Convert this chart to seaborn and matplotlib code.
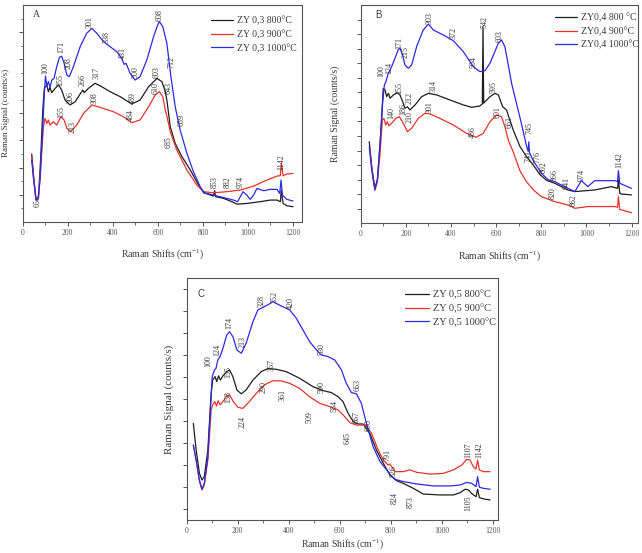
import matplotlib
matplotlib.use("Agg")
import matplotlib.pyplot as plt
from matplotlib.ticker import MultipleLocator, FixedLocator
import pandas as pd
import seaborn as sns

# ---------------- data: panel A (ZY 0,3) ----------------
a_temps = ["800", "900", "1000"]
a_labels = ["ZY 0,3 800°C", "ZY 0,3 900°C", "ZY 0,3 1000°C"]
a_x_800 = [40, 47, 59, 70, 80, 89, 96, 107, 114, 121, 129, 144, 159, 173, 188, 210, 233, 255, 267, 273,
           292, 321, 344, 388, 433, 484, 521, 559, 596, 618, 633, 640, 655, 677, 707, 744, 781, 803, 847, 852,
           856, 892, 929, 951, 995, 1055, 1099, 1129, 1144, 1148, 1156, 1173, 1200]
a_y_800 = [5.0, 3.57, 1.6, 1.85, 4.8, 8.25, 9.85, 10.09, 9.6, 9.92, 9.53, 9.85, 10.09, 9.72, 8.98, 8.62, 8.86, 9.43, 9.72, 9.53,
           9.85, 10.22, 10.03, 9.6, 9.23, 8.69, 8.98, 9.97, 10.58, 10.34, 9.6, 8.98, 7.02, 5.78, 4.8, 3.82, 2.71, 2.14, 1.9, 2.3,
           1.85, 1.72, 1.48, 1.3, 1.35, 1.48, 1.6, 1.6, 1.48, 2.34, 1.35, 1.18, 1.11]
a_x_900 = [40, 47, 59, 70, 80, 92, 99, 107, 114, 121, 136, 151, 169, 184, 196, 213, 240, 270, 307, 344,
           403, 447, 484, 521, 559, 588, 607, 622, 633, 640, 655, 684, 729, 773, 803, 847, 907, 966, 1025, 1084,
           1129, 1144, 1148, 1156, 1173, 1200]
a_y_900 = [4.8, 3.45, 1.6, 1.72, 4.06, 7.02, 7.63, 7.26, 7.51, 7.14, 7.38, 7.14, 7.75, 7.51, 6.89, 6.65, 7.14, 8.0, 8.62, 8.44,
           8.12, 7.75, 7.31, 7.51, 8.49, 9.35, 9.6, 9.23, 8.25, 7.8, 6.65, 5.29, 3.82, 2.71, 2.22, 2.14, 2.22, 2.34, 2.63, 3.08,
           3.37, 3.4, 4.31, 3.4, 3.52, 3.57]
a_x_1000 = [40, 47, 59, 67, 77, 89, 96, 101, 107, 114, 121, 129, 139, 151, 163, 173, 184, 196, 207, 225,
            255, 284, 307, 329, 359, 388, 418, 440, 450, 459, 477, 499, 521, 551, 581, 599, 607, 622, 640, 658,
            677, 699, 729, 758, 788, 806, 847, 907, 936, 954, 966, 978, 995, 1010, 1025, 1040, 1070, 1099, 1129, 1141,
            1147, 1153, 1173, 1200]
a_y_1000 = [4.55, 3.32, 1.65, 1.6, 3.08, 7.0, 9.48, 10.76, 10.02, 10.34, 9.92, 10.46, 10.58, 11.45, 12.14, 12.22, 11.69, 10.83, 10.71, 11.45,
            12.92, 13.91, 14.28, 13.91, 13.29, 12.92, 12.55, 12.06, 11.62, 11.69, 10.95, 10.46, 10.71, 11.94, 13.66, 14.52, 14.77, 14.4, 13.17, 10.71,
            8.49, 6.77, 5.05, 3.69, 2.58, 2.14, 1.97, 1.72, 1.6, 1.48, 1.85, 2.22, 1.97, 1.65, 1.97, 2.46, 2.29, 2.39, 2.39, 2.09,
            3.08, 1.97, 1.65, 1.53]
a_notes = [("65", 67, 1.35), ("100", 99, 11.37), ("155", 166, 10.46), ("171", 170, 12.92), ("208", 203, 11.74),
           ("206", 213, 9.23), ("266", 267, 10.46), ("317", 326, 10.95), ("301", 296, 14.77), ("338", 373, 13.66),
           ("431", 444, 12.43), ("500", 499, 11.08), ("489", 489, 9.11), ("484", 480, 7.88), ("308", 321, 9.11),
           ("155", 170, 8.12), ("213", 222, 7.02), ("608", 607, 15.26), ("603", 596, 11.08), ("610", 588, 9.85),
           ("643", 647, 9.85), ("712", 662, 11.82), ("659", 704, 7.51), ("685", 647, 5.91), ("853", 852, 2.95),
           ("882", 911, 2.95), ("974", 970, 2.95), ("1142", 1148, 4.43)]

# ---------------- data: panel B (ZY0,4) ----------------
b_temps = ["800", "900", "1000"]
b_labels = ["ZY0,4 800 °C", "ZY0,4 900°C", "ZY0,4 1000°C"]
b_x_800 = [38, 49, 63, 74, 89, 100, 108, 115, 123, 130, 145, 162, 174, 186, 196, 207, 218, 241, 270, 300,
           337, 396, 455, 492, 528, 539, 542, 545, 551, 573, 595, 610, 629, 646, 676, 706, 735, 765, 794, 824,
           860, 918, 949, 1037, 1111, 1138, 1142, 1148, 1156, 1200]
b_y_800 = [5.61, 3.89, 2.4, 2.98, 6.18, 9.27, 9.16, 8.7, 8.93, 8.59, 8.82, 8.98, 8.82, 8.36, 7.9, 8.01, 7.79, 8.13, 8.7, 8.93,
           8.82, 8.47, 8.13, 7.97, 8.06, 8.2, 13.5, 8.25, 8.36, 8.7, 8.93, 8.82, 8.01, 7.79, 6.41, 5.27, 4.58, 4.0, 3.35, 2.95,
           2.75, 2.29, 2.18, 2.29, 2.52, 2.4, 2.98, 2.06, 2.01, 1.95]
b_x_900 = [41, 52, 63, 74, 86, 96, 103, 111, 118, 125, 137, 156, 171, 189, 207, 226, 255, 285, 307, 351,
           410, 469, 511, 543, 573, 602, 624, 639, 654, 676, 706, 735, 765, 801, 860, 918, 949, 1006, 1126, 1138,
           1142, 1148, 1156, 1200]
b_y_900 = [5.04, 3.43, 2.24, 2.86, 4.81, 7.1, 7.21, 6.75, 6.98, 6.69, 6.87, 7.21, 7.33, 6.87, 6.3, 6.53, 7.21, 7.56, 7.51, 7.21,
           6.76, 6.18, 5.91, 6.18, 6.98, 7.44, 7.33, 6.64, 5.72, 4.9, 3.6, 2.85, 2.3, 1.83, 1.49, 1.26, 1.03, 1.15, 1.15, 1.1,
           1.83, 0.95, 0.92, 0.73]
b_x_1000 = [38, 49, 63, 74, 86, 97, 105, 112, 120, 127, 137, 152, 167, 174, 186, 196, 211, 226, 248, 277,
            300, 322, 366, 410, 455, 499, 528, 551, 573, 610, 624, 639, 669, 691, 713, 735, 742, 745, 748, 765,
            801, 830, 860, 918, 949, 978, 1006, 1037, 1126, 1138, 1142, 1148, 1200]
b_y_1000 = [5.27, 3.66, 2.34, 2.98, 5.5, 8.24, 9.5, 9.73, 10.19, 10.42, 10.76, 11.34, 11.95, 12.02, 11.57, 10.88, 10.65, 10.88, 12.14, 13.28,
            13.69, 13.28, 12.94, 12.55, 11.79, 10.76, 10.42, 10.49, 11.0, 12.37, 12.6, 12.14, 9.6, 8.2, 6.8, 5.3, 4.95, 5.6, 4.85, 4.3,
            3.43, 3.0, 2.86, 2.4, 2.18, 2.93, 2.52, 2.93, 2.93, 2.86, 3.62, 2.75, 2.4]
b_notes = [("100", 90, 10.48), ("124", 127, 10.65), ("171", 171, 12.37), ("215", 200, 11.79), ("303", 307, 14.08),
           ("372", 410, 13.05), ("504", 499, 11.11), ("542", 547, 13.85), ("603", 614, 12.87), ("155", 170, 9.27),
           ("314", 322, 9.43), ("595", 587, 9.34), ("212", 216, 8.6), ("186", 188, 7.85), ("140", 137, 7.56),
           ("301", 307, 8.01), ("210", 218, 7.28), ("486", 499, 6.30), ("601", 605, 7.67), ("661", 658, 6.98),
           ("745", 747, 6.53), ("741", 745, 4.65), ("776", 782, 4.58), ("802", 812, 3.89), ("866", 860, 3.32),
           ("941", 912, 2.75), ("974", 978, 3.32), ("1142", 1144, 4.35), ("820", 853, 2.06), ("862", 946, 1.6)]

# ---------------- data: panel C (ZY 0,5) ----------------
c_temps = ["800", "900", "1000"]
c_labels = ["ZY 0,5 800°C", "ZY 0,5 900°C", "ZY 0,5 1000°C"]
c_x_800 = [26, 37, 50, 60, 69, 83, 96, 102, 111, 118, 125, 132, 142, 157, 168, 181, 197, 214, 233, 260,
           292, 318, 351, 391, 443, 495, 535, 567, 594, 613, 633, 653, 672, 692, 718, 744, 771, 797, 823, 849,
           889, 928, 993, 1046, 1072, 1092, 1105, 1117, 1135, 1141, 1148, 1164, 1190]
c_y_800 = [4.4, 3.19, 2.12, 1.82, 1.97, 3.19, 5.77, 6.37, 6.53, 6.3, 6.56, 6.37, 6.56, 6.75, 6.83, 6.53, 5.92, 5.74, 5.92, 6.37,
           6.75, 6.89, 6.86, 6.75, 6.45, 6.07, 5.89, 5.8, 5.61, 5.39, 4.86, 4.48, 4.37, 4.37, 3.95, 3.19, 2.58, 2.05, 1.79, 1.67,
           1.44, 1.18, 1.14, 1.14, 1.24, 1.4, 1.37, 1.21, 1.06, 1.40, 1.02, 0.96, 0.91]
c_x_900 = [26, 37, 50, 60, 69, 83, 96, 102, 110, 117, 123, 131, 142, 157, 168, 183, 201, 220, 246, 273,
           305, 338, 371, 404, 443, 482, 522, 561, 594, 620, 640, 666, 699, 725, 751, 771, 790, 797, 817, 849,
           875, 902, 954, 1006, 1046, 1079, 1098, 1111, 1124, 1135, 1141, 1148, 1164, 1190]
c_y_900 = [3.41, 2.73, 1.75, 1.37, 1.59, 2.73, 5.01, 5.24, 5.39, 5.19, 5.43, 5.24, 5.39, 5.64, 5.69, 5.39, 5.13, 5.08, 5.39, 5.77,
           6.15, 6.34, 6.33, 6.22, 5.99, 5.61, 5.31, 5.16, 5.01, 4.7, 4.43, 4.32, 4.32, 3.95, 3.19, 2.73, 2.5, 2.55, 2.2, 2.2,
           2.28, 2.17, 2.09, 2.12, 2.28, 2.5, 2.76, 2.73, 2.43, 2.32, 2.73, 2.28, 2.2, 2.2]
c_x_1000 = [26, 37, 50, 60, 69, 83, 93, 100, 109, 115, 122, 131, 142, 157, 168, 181, 197, 214, 233, 260,
            279, 299, 318, 338, 351, 371, 404, 430, 456, 482, 509, 528, 554, 581, 607, 626, 646, 666, 685, 705,
            731, 758, 784, 803, 817, 849, 902, 967, 1033, 1072, 1098, 1117, 1135, 1141, 1148, 1164, 1190]
c_y_1000 = [3.41, 2.73, 1.82, 1.4, 1.67, 2.88, 5.01, 6.53, 6.83, 6.9, 7.28, 7.44, 7.81, 8.42, 8.57, 8.35, 7.74, 7.59, 8.04, 9.03,
            9.56, 9.68, 9.79, 9.94, 9.86, 9.74, 9.56, 9.18, 8.65, 8.12, 7.74, 7.51, 7.44, 7.28, 6.83, 6.22, 5.8, 5.74, 5.31, 4.4,
            3.34, 2.66, 2.28, 2.0, 1.85, 1.75, 1.64, 1.55, 1.55, 1.59, 1.71, 1.67, 1.52, 1.97, 1.49, 1.44, 1.40]
c_notes = [("100", 86, 7.21), ("124", 122, 7.74), ("155", 165, 6.75), ("174", 168, 8.95), ("213", 220, 8.12),
           ("328", 292, 9.98), ("352", 345, 10.17), ("420", 410, 9.86), ("530", 528, 7.77), ("663", 672, 6.15),
           ("367", 334, 7.06), ("290", 301, 6.07), ("158", 164, 5.61), ("224", 220, 4.48), ("361", 377, 5.69),
           ("509", 480, 4.70), ("590", 528, 6.07), ("584", 581, 5.19), ("645", 633, 3.72), ("667", 668, 4.70),
           ("690", 712, 4.32), ("791", 786, 2.96), ("826", 814, 2.23), ("824", 817, 1.02), ("873", 878, 0.83),
           ("1105", 1105, 0.76), ("1107", 1105, 3.19), ("1142", 1148, 3.19)]

# ---------------- style ----------------
sns.set_theme(style="ticks")
plt.rcParams["font.family"] = ["Liberation Serif", "DejaVu Serif"]
plt.rcParams["mathtext.fontset"] = "custom"
plt.rcParams["mathtext.rm"] = "Liberation Serif"
plt.rcParams["mathtext.it"] = "Liberation Serif:italic"

COLORS = ["#1e1e1e", "#e8332b", "#2a2ae8"]
TXT = "#3a3a3a"


def panel(ax, temps, xs, ys, labels, notes, xmax, ymax, major, minor, letter, letter_pos, letter_family,
          leg_anchor, leg_size, leg_spacing, ylabel_x, ylabel_size, xlabel_y):
    frames = [pd.DataFrame({"shift": x, "signal": y, "sample": t}) for t, x, y in zip(temps, xs, ys)]
    df = pd.concat(frames, ignore_index=True)
    sns.lineplot(data=df, x="shift", y="signal", hue="sample", hue_order=temps, palette=COLORS,
                 sort=False, estimator=None, linewidth=0.9, legend=False, ax=ax)
    ax.set_xlim(0, xmax)
    ax.set_ylim(0, ymax)
    ax.set_xticks(range(0, 1201, 200))
    ax.xaxis.set_minor_locator(MultipleLocator(100))
    ax.yaxis.set_major_locator(FixedLocator(major))
    ax.yaxis.set_minor_locator(FixedLocator(minor))
    ax.tick_params(axis="both", which="major", direction="out", length=3, width=0.7,
                   colors="#555555", labelsize=5.5, pad=2)
    ax.tick_params(axis="both", which="minor", direction="out", length=1.8, width=0.6, colors="#555555")
    ax.tick_params(axis="y", labelleft=False)
    for s in ax.spines.values():
        s.set_color("#555555")
        s.set_linewidth(0.8)
    ax.set_xlabel("Raman Shifts (cm$^{-1}$)", fontsize=7, color=TXT)
    ax.set_ylabel("Raman Signal (counts/s)", fontsize=ylabel_size, color=TXT)
    ax.xaxis.set_label_coords(0.5, xlabel_y)
    ax.yaxis.set_label_coords(ylabel_x, 0.5)
    for txt, x, y in notes:
        ax.text(x, y, txt, rotation=90, fontsize=5.8, color=TXT, ha="center", va="center")
    ax.text(letter_pos[0], letter_pos[1], letter, transform=ax.transAxes, fontsize=7,
            family=letter_family, color=TXT, ha="left", va="center")
    ax.legend(ax.get_lines()[:3], labels, loc="upper left", bbox_to_anchor=leg_anchor,
              frameon=False, fontsize=leg_size, handlelength=2.3, handletextpad=0.4,
              labelspacing=leg_spacing, borderpad=0, borderaxespad=0, labelcolor=TXT)


fig = plt.figure(figsize=(6.42, 5.53), dpi=100)
fig.patch.set_facecolor("white")

ax_a = fig.add_axes([0.0354, 0.599, 0.435, 0.392])
ax_b = fig.add_axes([0.5618, 0.5962, 0.4324, 0.3948])
ax_c = fig.add_axes([0.2908, 0.0597, 0.4849, 0.437])

panel(ax_a, a_temps, [a_x_800, a_x_900, a_x_1000], [a_y_800, a_y_900, a_y_1000], a_labels, a_notes,
      1240, 16, [2, 4, 6, 8, 10, 12, 14], [1, 3, 5, 7, 9, 11, 13, 15], "A", (0.037, 0.954),
      ["Liberation Serif"], (0.674, 0.948), 7, 0.42, -0.047, 6.5, -0.117)
panel(ax_b, b_temps, [b_x_800, b_x_900, b_x_1000], [b_y_800, b_y_900, b_y_1000], b_labels, b_notes,
      1230, 15, list(range(1, 15)), [], "B", (0.052, 0.954),
      ["Liberation Sans"], (0.700, 0.963), 7, 0.42, -0.074, 7, -0.118)
panel(ax_c, c_temps, [c_x_800, c_x_900, c_x_1000], [c_y_800, c_y_900, c_y_1000], c_labels, c_notes,
      1221, 11, [k + 0.5 for k in range(11)], [], "C", (0.036, 0.935),
      ["Liberation Sans"], (0.701, 0.952), 7.5, 0.42, -0.041, 8, -0.07)

fig.savefig("out.png", dpi=100, facecolor="white")
